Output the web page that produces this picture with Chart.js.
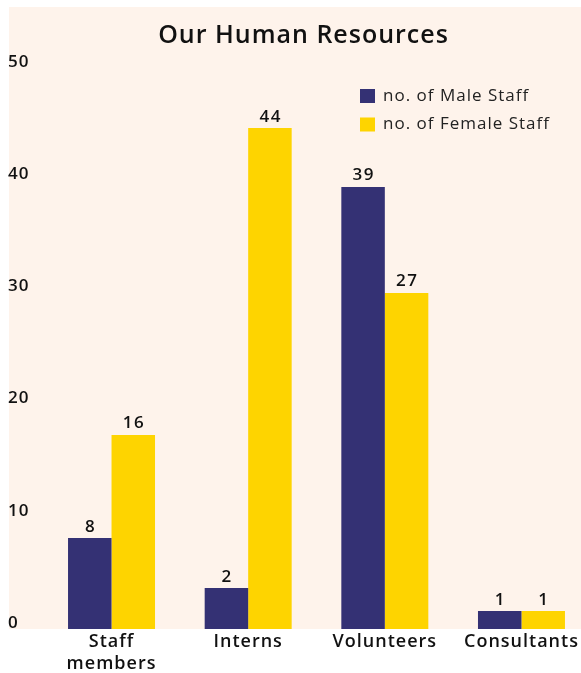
<!DOCTYPE html>
<html><head><meta charset="utf-8">
<script src="https://cdn.jsdelivr.net/npm/chart.js@4"></script>
<style>html,body{margin:0;padding:0;background:#fff;overflow:hidden;width:581px;height:673px}canvas{display:block}</style>
</head><body>
<canvas id="c" width="600" height="673"></canvas>
<script>
const categories = [['Staff', 'members'], 'Interns', 'Volunteers', 'Consultants'];
const seriesNames = ['no. of Male Staff', 'no. of Female Staff'];
// bar heights as drawn in the picture
const maleValues = [8.1, 3.65, 39.4, 1.6];
const femaleValues = [17.3, 44.65, 29.95, 1.6];
// numbers printed above the bars
const maleLabels = ['8', '2', '39', '1'];
const femaleLabels = ['16', '44', '27', '1'];
const yTicks = [0, 10, 20, 30, 40, 50];

const COLORS = ['#343174', '#FED400'];
const CREAM = '#FEF3EB';
const FONT = '"Open Sans", sans-serif';
const labelSets = [maleLabels, femaleLabels];

const background = {
  id: 'background',
  beforeDraw(chart) {
    const { ctx, chartArea } = chart;
    ctx.save();
    ctx.fillStyle = CREAM;
    ctx.fillRect(9, 7, chart.width, chartArea.bottom - 7);
    ctx.restore();
    if ('letterSpacing' in ctx) ctx.letterSpacing = '1px';
  }
};

const titleShift = {
  id: 'titleShift',
  afterLayout(chart) {
    const t = chart.titleBlock;
    if (t) { t.left = 6; t.right = 601; }
  }
};

const valueLabels = {
  id: 'valueLabels',
  afterDatasetsDraw(chart) {
    const ctx = chart.ctx;
    ctx.save();
    if ('letterSpacing' in ctx) ctx.letterSpacing = '1.5px';
    ctx.font = '600 17px ' + FONT;
    ctx.fillStyle = '#111';
    ctx.textAlign = 'center';
    ctx.textBaseline = 'alphabetic';
    chart.data.datasets.forEach((ds, i) => {
      chart.getDatasetMeta(i).data.forEach((bar, j) => {
        ctx.fillText(labelSets[i][j], bar.x + 0.75, bar.y - 6.5);
      });
    });
    ctx.restore();
  }
};

const customLegend = {
  id: 'customLegend',
  afterDraw(chart) {
    const ctx = chart.ctx;
    ctx.save();
    if ('letterSpacing' in ctx) ctx.letterSpacing = '1px';
    ctx.font = '400 17px ' + FONT;
    ctx.textBaseline = 'middle';
    ctx.textAlign = 'left';
    chart.data.datasets.forEach((ds, i) => {
      const y = 96 + i * 28.5;
      ctx.fillStyle = ds.backgroundColor;
      ctx.fillRect(360, y - 7, 15, 14);
      ctx.fillStyle = '#222';
      ctx.fillText(ds.label, 383, y);
    });
    ctx.restore();
  }
};

new Chart(document.getElementById('c'), {
  type: 'bar',
  data: {
    labels: categories,
    datasets: [
      { label: seriesNames[0], data: maleValues, backgroundColor: COLORS[0] },
      { label: seriesNames[1], data: femaleValues, backgroundColor: COLORS[1] }
    ]
  },
  options: {
    responsive: false,
    animation: false,
    devicePixelRatio: 1,
    layout: { padding: { left: 8, right: 10.2, top: 0, bottom: 0 } },
    datasets: { bar: { barPercentage: 1, categoryPercentage: 0.6366 } },
    plugins: {
      legend: { display: false },
      tooltip: { enabled: false },
      title: {
        display: true,
        text: 'Our Human Resources',
        color: '#111',
        font: { family: FONT, size: 25, weight: '600', lineHeight: 1.2 },
        padding: { top: 21, bottom: 17 }
      }
    },
    scales: {
      x: {
        grid: { display: false, drawTicks: false },
        border: { display: false },
        ticks: {
          color: '#111',
          padding: 1.5,
          maxRotation: 0,
          font: { family: FONT, size: 18, weight: '600', lineHeight: 1.22 }
        },
        afterFit(axis) { axis.height = 44; }
      },
      y: {
        min: 0,
        max: 50,
        afterBuildTicks(axis) { axis.ticks = yTicks.map(v => ({ value: v })); },
        grid: { display: false, drawTicks: false },
        border: { display: false },
        ticks: {
          color: '#111',
          crossAlign: 'far',
          labelOffset: -6,
          font: { family: FONT, size: 17, weight: '600' }
        },
        afterFit(axis) { axis.width = 35.2; }
      }
    }
  },
  plugins: [background, titleShift, valueLabels, customLegend]
});
</script>
</body></html>
